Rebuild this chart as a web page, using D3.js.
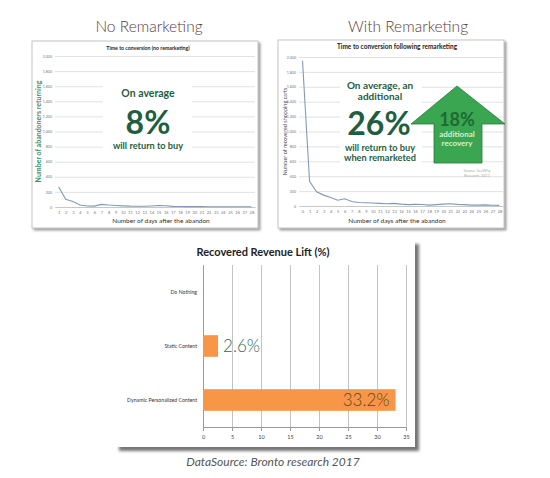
<!DOCTYPE html>
<html lang="en">
<head>
<meta charset="utf-8">
<title>Remarketing</title>
<script src="https://d3js.org/d3.v7.min.js"></script>
<style>
  body { margin: 0; background: #fff; }
  svg { display: block; }
  text { font-family: Lato, "Open Sans", sans-serif; }
</style>
</head>
<body>
<script>
// ---- data ----
const leftDays = [1, 2, 3, 4, 5, 6, 7, 8, 9, 10, 11, 12, 13, 14, 15, 16, 17, 18, 19, 20, 21, 22, 23, 24, 25, 26, 27, 28];
const leftValues = [268, 102, 72, 26, 13, 12, 35, 26, 20, 15, 11, 10, 10, 14, 20, 16, 8, 6, 5, 5, 5, 4, 4, 4, 3, 3, 3, 3];
const rightDays = [0, 1, 2, 3, 4, 5, 6, 7, 8, 9, 10, 11, 12, 13, 14, 15, 16, 17, 18, 19, 20, 21, 22, 23, 24, 25, 26, 27, 28];
const rightValues = [1950, 330, 190, 146, 115, 78, 98, 60, 46, 44, 40, 35, 30, 35, 25, 18, 22, 20, 12, 18, 25, 30, 22, 18, 12, 12, 15, 10, 8];
const yTicks = [0, 200, 400, 600, 800, 1000, 1200, 1400, 1600, 1800, 2000];

const liftCategories = ['Do Nothing', 'Static Content', 'Dynamic Personalized Content'];
const liftValues = [0, 2.6, 33.2];
const liftLabels = ['', '2.6%', '33.2%'];
const liftTicks = [0, 5, 10, 15, 20, 25, 30, 35];

const w = 550, h = 478;
const svg = d3.select('body').append('svg').attr('width', w).attr('height', h);

const defs = svg.append('defs');
defs.append('filter').attr('id', 'shadow').attr('x', '-5%').attr('y', '-5%').attr('width', '115%').attr('height', '115%')
  .append('feDropShadow').attr('dx', 2).attr('dy', 2).attr('stdDeviation', 1.2).attr('flood-color', '#777').attr('flood-opacity', 0.7);
defs.append('filter').attr('id', 'shadow2').attr('x', '-5%').attr('y', '-5%').attr('width', '115%').attr('height', '115%')
  .append('feDropShadow').attr('dx', 4).attr('dy', 4).attr('stdDeviation', 1.5).attr('flood-color', '#555').attr('flood-opacity', 0.8);

// ---- small line chart panel ----
function lineChart(o) {
  svg.append('text').attr('x', o.cx).attr('y', 32).attr('text-anchor', 'middle')
    .attr('font-size', 15.5).attr('font-weight', 300).attr('fill', '#5a3c3c').text(o.header);

  svg.append('rect').attr('x', o.px).attr('y', o.py).attr('width', o.pw).attr('height', o.ph)
    .attr('fill', '#fff').attr('stroke', '#c4c4c4').attr('stroke-width', 1).attr('filter', 'url(#shadow)');

  svg.append('text').attr('x', o.titleX).attr('y', o.py + 9).attr('text-anchor', 'middle')
    .attr('font-size', o.titleSize).attr('font-weight', 'bold').attr('fill', '#222').text(o.title);

  const x = d3.scalePoint().domain(o.days).range(o.xr).padding(0.5);
  const y = d3.scaleLinear().domain([0, 2000]).range(o.yr);

  svg.append('g').attr('transform', `translate(${o.xr[0]},0)`)
    .call(d3.axisLeft(y).tickValues(yTicks).tickSize(-(o.xr[1] - o.xr[0])).tickPadding(3))
    .call(g => g.select('.domain').remove())
    .call(g => g.selectAll('line').attr('stroke', '#d6d6d6').attr('stroke-width', 0.7))
    .call(g => g.selectAll('text').attr('font-size', 3.6).attr('fill', '#777').attr('font-family', 'Arial, sans-serif'));

  svg.append('g').attr('transform', `translate(0,${o.yr[0]})`)
    .call(d3.axisBottom(x).tickSize(0).tickPadding(4))
    .call(g => g.select('.domain').attr('stroke', '#c8c8c8'))
    .call(g => g.selectAll('text').attr('font-size', 4).attr('fill', '#777').attr('font-family', 'Arial, sans-serif'));

  svg.append('path').datum(o.values)
    .attr('fill', 'none').attr('stroke', '#7f9bb8').attr('stroke-width', 1.1)
    .attr('d', d3.line().x((d, i) => x(o.days[i])).y(d => y(d)));

  svg.append('text').attr('transform', `translate(${o.ylx},${(o.yr[0] + o.yr[1]) / 2}) rotate(-90)`)
    .attr('text-anchor', 'middle').attr('font-size', o.ylSize).attr('font-weight', o.ylWeight)
    .attr('fill', o.ylColor).text(o.ylabel);

  svg.append('text').attr('x', o.xlx).attr('y', o.py + o.ph - 5).attr('text-anchor', 'middle')
    .attr('font-size', 6.5).attr('fill', '#333').text('Number of days after the abandon');
}

lineChart({
  header: 'No Remarketing', cx: 149,
  px: 32, py: 41, pw: 226, ph: 187,
  title: 'Time to conversion (no remarketing)', titleX: 148, titleSize: 5.2,
  days: leftDays, values: leftValues, xr: [55, 255], yr: [207, 56],
  ylabel: 'Number of abandoners returning', ylx: 41, ylSize: 7, ylWeight: 'bold', ylColor: '#3a8f6a',
  xlx: 161
});

lineChart({
  header: 'With Remarketing', cx: 408,
  px: 278, py: 40, pw: 226, ph: 188,
  title: 'Time to conversion following remarketing', titleX: 397, titleSize: 6.5,
  days: rightDays, values: rightValues, xr: [299, 503], yr: [206, 57],
  ylabel: 'Number of recovered shopping carts', ylx: 287, ylSize: 5.5, ylWeight: 'normal', ylColor: '#444',
  xlx: 397
});

// ---- overlay texts on the top charts ----
const green = '#1f5e40';
svg.append('rect').attr('x', 103).attr('y', 79).attr('width', 89).attr('height', 74).attr('fill', '#fff');
svg.append('text').attr('x', 148).attr('y', 97).attr('text-anchor', 'middle').attr('font-size', 10.5)
  .attr('font-weight', 'bold').attr('fill', green).text('On average');
svg.append('text').attr('x', 148).attr('y', 134).attr('text-anchor', 'middle').attr('font-size', 32)
  .attr('font-weight', 'bold').attr('fill', green).text('8%');
svg.append('text').attr('x', 148).attr('y', 149).attr('text-anchor', 'middle').attr('font-size', 9.2)
  .attr('font-weight', 'bold').attr('fill', green).text('will return to buy');

svg.append('rect').attr('x', 340).attr('y', 78).attr('width', 82).attr('height', 86).attr('fill', '#fff');
svg.append('text').attr('x', 380).attr('y', 89).attr('text-anchor', 'middle').attr('font-size', 10)
  .attr('font-weight', 'bold').attr('fill', green).text('On average, an');
svg.append('text').attr('x', 380).attr('y', 100).attr('text-anchor', 'middle').attr('font-size', 10)
  .attr('font-weight', 'bold').attr('fill', green).text('additional');
svg.append('text').attr('x', 379).attr('y', 134.5).attr('text-anchor', 'middle').attr('font-size', 32)
  .attr('font-weight', 'bold').attr('fill', green).text('26%');
svg.append('text').attr('x', 380).attr('y', 151).attr('text-anchor', 'middle').attr('font-size', 9.2)
  .attr('font-weight', 'bold').attr('fill', green).text('will return to buy');
svg.append('text').attr('x', 380).attr('y', 161).attr('text-anchor', 'middle').attr('font-size', 9.2)
  .attr('font-weight', 'bold').attr('fill', green).text('when remarketed');

// up arrow
svg.append('path')
  .attr('d', 'M457,86 L505,124 L482,124 L482,163 L434,163 L434,124 L411,124 Z')
  .attr('fill', '#3aa651').attr('stroke', '#2a7a3a').attr('stroke-width', 0.8);
svg.append('text').attr('x', 457).attr('y', 126).attr('text-anchor', 'middle').attr('font-size', 18)
  .attr('font-weight', 'bold').attr('fill', '#1d6a35').text('18%');
svg.append('text').attr('x', 457).attr('y', 137).attr('text-anchor', 'middle').attr('font-size', 8)
  .attr('font-weight', 'bold').attr('fill', '#d4f2d4').text('additional');
svg.append('text').attr('x', 457).attr('y', 146).attr('text-anchor', 'middle').attr('font-size', 8)
  .attr('font-weight', 'bold').attr('fill', '#d4f2d4').text('recovery');
svg.append('text').attr('x', 477).attr('y', 172).attr('text-anchor', 'middle').attr('font-size', 3.8)
  .attr('fill', '#aaa').text('Source: SeeWhy');
svg.append('text').attr('x', 477).attr('y', 177).attr('text-anchor', 'middle').attr('font-size', 3.8)
  .attr('fill', '#aaa').text('Research, 2011');

// ---- bottom bar chart ----
svg.append('rect').attr('x', 115).attr('y', 240).attr('width', 300).attr('height', 207)
  .attr('fill', '#fff').attr('filter', 'url(#shadow2)');

svg.append('text').attr('x', 263).attr('y', 256).attr('text-anchor', 'middle').attr('font-size', 11)
  .attr('font-weight', 'bold').attr('fill', '#222').text('Recovered Revenue Lift (%)');

const bx = d3.scaleLinear().domain([0, 35]).range([203, 406]);
const by = d3.scaleBand().domain(liftCategories).range([265, 427]).paddingInner(0.6).paddingOuter(0.3);
const byAxis = d3.scaleBand().domain(liftCategories).range([265, 427]);

svg.append('g').attr('transform', 'translate(0,427)')
  .call(d3.axisBottom(bx).tickValues(liftTicks).tickSize(-162).tickFormat(''))
  .call(g => g.select('.domain').remove())
  .call(g => g.selectAll('line').attr('stroke', '#9a9a9a').attr('stroke-width', 0.6));

svg.append('g').attr('transform', 'translate(0,427)')
  .call(d3.axisBottom(bx).tickValues(liftTicks).tickSize(4).tickSizeOuter(0).tickPadding(4))
  .call(g => g.select('.domain').attr('stroke', '#9a9a9a'))
  .call(g => g.selectAll('line').attr('stroke', '#9a9a9a'))
  .call(g => g.selectAll('text').attr('font-size', 5.5).attr('fill', '#444').attr('font-family', 'DejaVu Serif, serif'));

svg.append('g').attr('transform', 'translate(203,0)')
  .call(d3.axisLeft(byAxis).tickSize(0).tickPadding(6))
  .call(g => g.select('.domain').attr('stroke', '#9a9a9a'))
  .call(g => g.selectAll('text').attr('font-size', 5.2).attr('fill', '#333').attr('font-family', 'Arial, sans-serif'));

svg.selectAll('.bar').data(liftValues).enter().append('rect').attr('class', 'bar')
  .attr('x', bx(0)).attr('y', (d, i) => by(liftCategories[i]))
  .attr('width', d => bx(d) - bx(0)).attr('height', by.bandwidth())
  .attr('fill', '#f79646');

svg.append('text').attr('x', bx(liftValues[1]) + 5).attr('y', by(liftCategories[1]) + by.bandwidth() / 2)
  .attr('dy', '0.35em').attr('font-size', 17).attr('font-weight', 300).attr('fill', '#2e6a5a').text(liftLabels[1]);
svg.append('text').attr('x', bx(liftValues[2]) - 6).attr('y', by(liftCategories[2]) + by.bandwidth() / 2)
  .attr('dy', '0.35em').attr('text-anchor', 'end').attr('font-size', 17).attr('font-weight', 300).attr('fill', '#5b4a1c').text(liftLabels[2]);

svg.append('text').attr('x', 273).attr('y', 466).attr('text-anchor', 'middle').attr('font-size', 12)
  .attr('font-style', 'italic').attr('fill', '#555').text('DataSource: Bronto research 2017');
</script>
</body>
</html>
